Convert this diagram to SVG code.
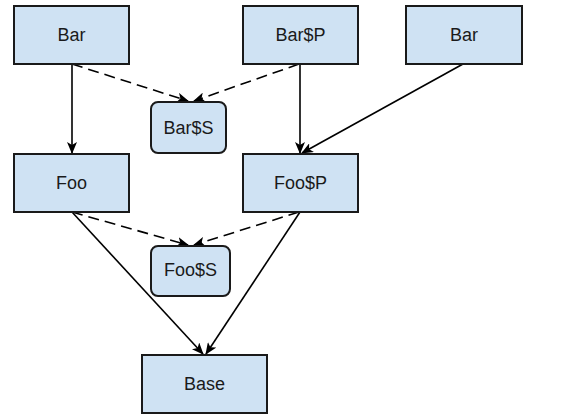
<svg xmlns="http://www.w3.org/2000/svg" width="569" height="415" viewBox="0 0 569 415">
  <style>
    .box { fill: #cfe2f3; stroke: #1a1a1a; stroke-width: 2; }
    .lbl { font-family: "Liberation Sans", Arial, sans-serif; font-size: 18px; fill: #1a1a1a; text-anchor: middle; dominant-baseline: central; }
    .edge { fill: none; stroke: #000; stroke-width: 1.6; }
    .dash { stroke-dasharray: 11 6; }
  </style>
  <defs>
    <marker id="arrow" viewBox="0 0 12 10" refX="11" refY="5" markerWidth="12" markerHeight="10" markerUnits="userSpaceOnUse" orient="auto">
      <path d="M0,0 L12,5 L0,10 L3,5 z" fill="#000"/>
    </marker>
  </defs>
  <rect width="569" height="415" fill="#fff"/>

  <g id="connectors">
    <line class="edge" x1="72" y1="64" x2="72" y2="153" marker-end="url(#arrow)"/>
    <line class="edge dash" x1="72" y1="64" x2="188" y2="101" marker-end="url(#arrow)"/>
    <line class="edge dash" x1="299" y1="64" x2="194" y2="101" marker-end="url(#arrow)"/>
    <line class="edge" x1="300" y1="64" x2="300" y2="153" marker-end="url(#arrow)"/>
    <line class="edge" x1="463" y1="64" x2="302" y2="153" marker-end="url(#arrow)"/>
    <line class="edge dash" x1="72" y1="212" x2="188" y2="245" marker-end="url(#arrow)"/>
    <line class="edge dash" x1="299" y1="212" x2="194" y2="245" marker-end="url(#arrow)"/>
    <line class="edge" x1="72" y1="212" x2="203" y2="354" marker-end="url(#arrow)"/>
    <line class="edge" x1="300" y1="212" x2="206" y2="354" marker-end="url(#arrow)"/>
  </g>

  <g id="bar-left">
    <rect class="box" x="14" y="6" width="115" height="58"/>
    <text class="lbl" x="71.5" y="35">Bar</text>
  </g>
  <g id="bar-p">
    <rect class="box" x="243" y="6" width="115" height="58"/>
    <text class="lbl" x="300.5" y="35">Bar$P</text>
  </g>
  <g id="bar-right">
    <rect class="box" x="406" y="6" width="116" height="58"/>
    <text class="lbl" x="464" y="35">Bar</text>
  </g>
  <g id="bar-s">
    <rect class="box" x="151" y="102" width="75" height="51" rx="7"/>
    <text class="lbl" x="188.5" y="128">Bar$S</text>
  </g>
  <g id="foo">
    <rect class="box" x="14" y="154" width="115" height="58"/>
    <text class="lbl" x="71.5" y="183">Foo</text>
  </g>
  <g id="foo-p">
    <rect class="box" x="243" y="154" width="115" height="58"/>
    <text class="lbl" x="300.5" y="183">Foo$P</text>
  </g>
  <g id="foo-s">
    <rect class="box" x="151" y="246" width="79" height="50" rx="7"/>
    <text class="lbl" x="190.5" y="270">Foo$S</text>
  </g>
  <g id="base">
    <rect class="box" x="142" y="355" width="125" height="58"/>
    <text class="lbl" x="204.5" y="384">Base</text>
  </g>
</svg>
